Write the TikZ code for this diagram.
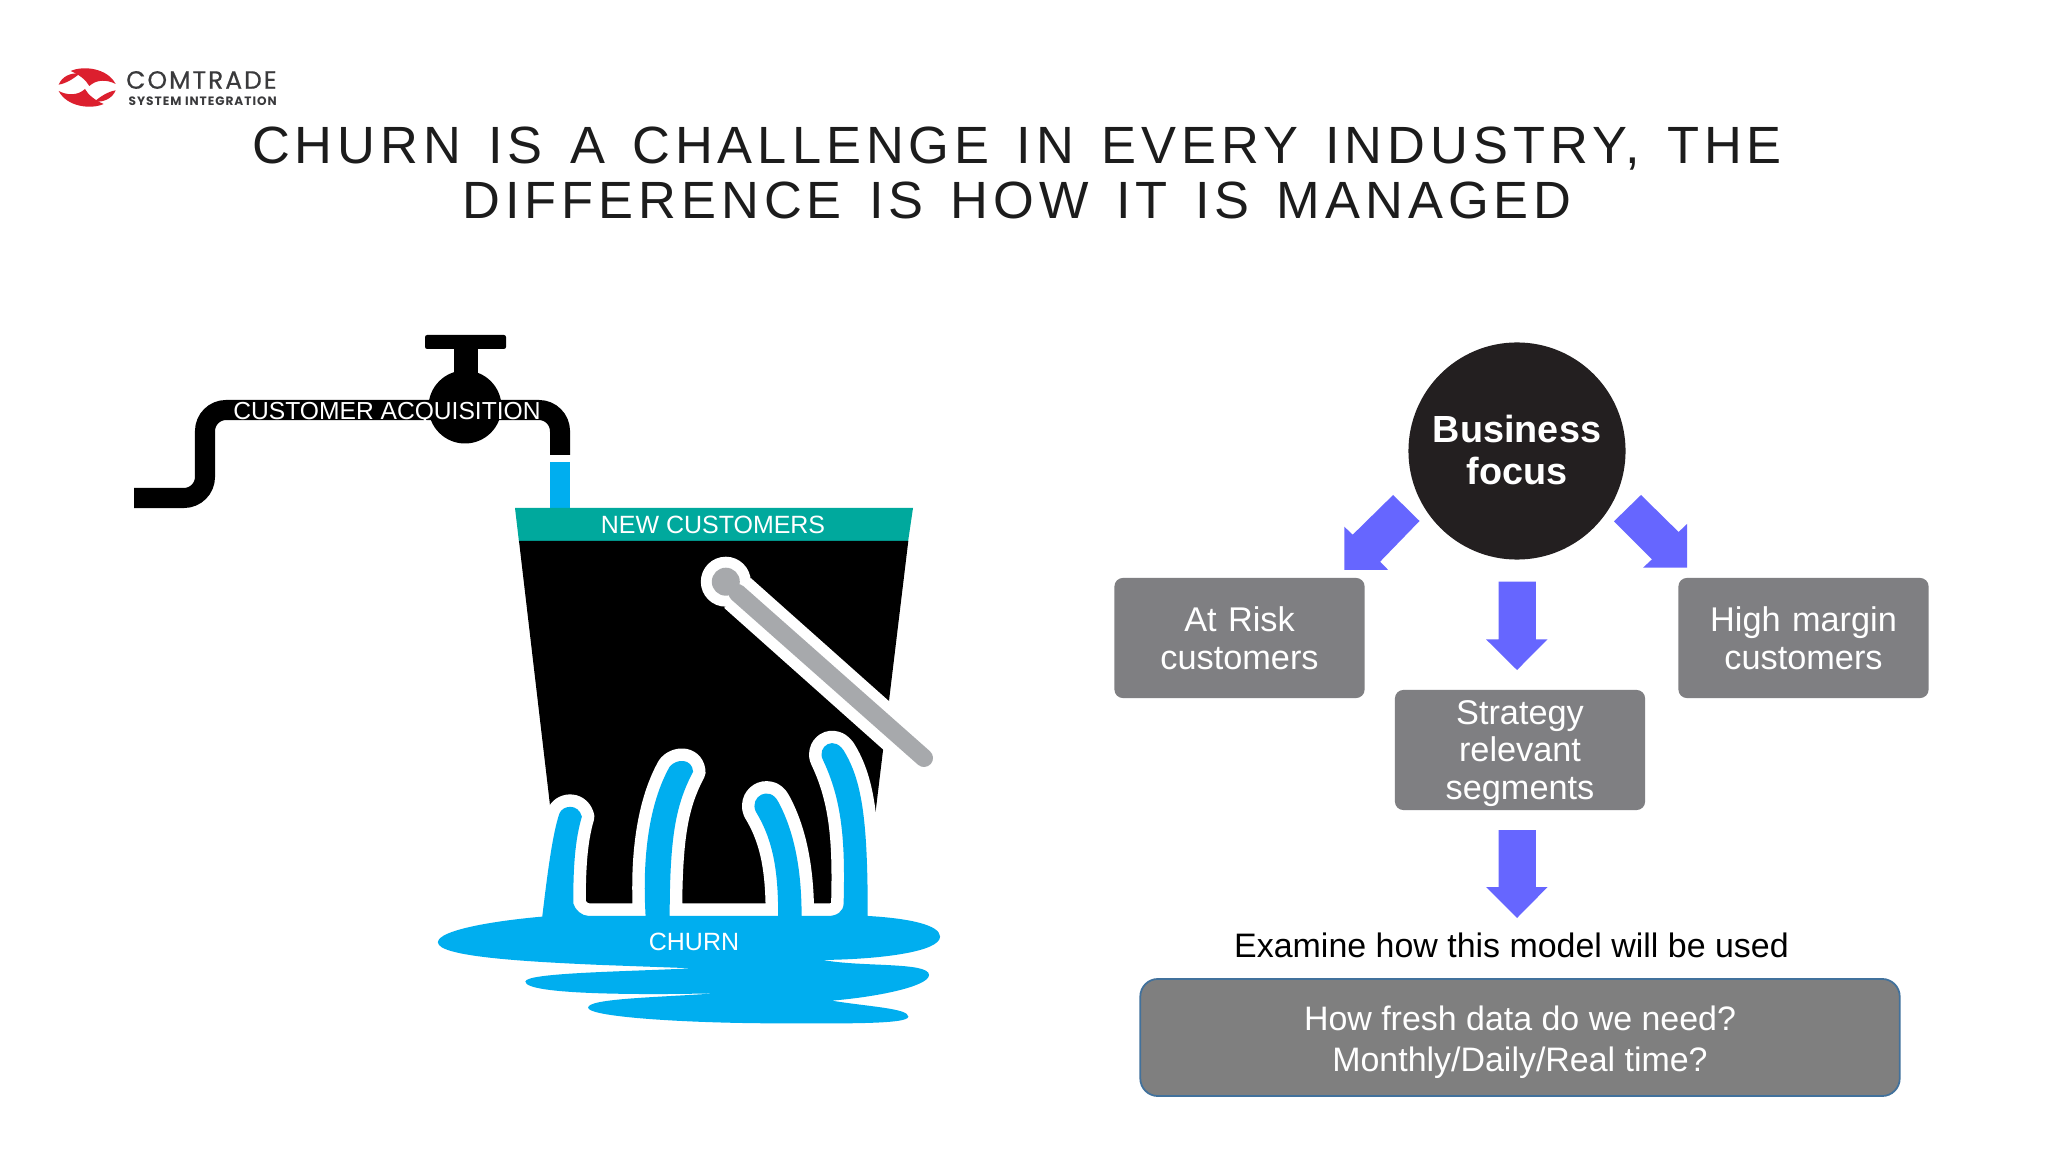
\documentclass[tikz,border=0pt]{standalone}
\usepackage{fontspec}
\setmainfont{Liberation Sans}
\newfontfamily\titlefont[LetterSpace=9.5,WordSpace=1.395]{Liberation Sans}
\newfontfamily\logofont[LetterSpace=8,FakeBold=0.5]{Poppins}
\newfontfamily\logosub[LetterSpace=8]{Poppins}
\definecolor{water}{HTML}{00AEEF}
\definecolor{rim}{HTML}{00A99D}
\definecolor{focusblk}{HTML}{231F20}
\definecolor{arrowblue}{HTML}{6666FF}
\definecolor{boxgray}{HTML}{7F7F82}
\definecolor{freshgray}{HTML}{7F7F7F}
\definecolor{freshedge}{HTML}{41719C}
\definecolor{handlegray}{HTML}{A7A9AC}
\definecolor{logored}{HTML}{DC1F2E}
\definecolor{logotxt}{HTML}{3A3A3C}
\definecolor{titleink}{HTML}{1C1C1C}
\newcommand{\fpx}[2]{\fontsize{#1}{#2}\selectfont}
\tikzset{
  x=0.01cm,y=-0.01cm,
  graybox/.style={fill=boxgray,rounded corners=2.4pt,inner sep=0pt,text=white,align=center,text width=2.4cm,font=\fpx{9.75}{10.7}},
  boxtext/.style={inner sep=0pt,align=center,text=white,font=\fpx{9.75}{10.7}},
  blockarrow/.style={fill=arrowblue,draw=none},
  lab/.style={inner sep=0pt,align=center},
}
\def\waterpath{
 (355,1130) .. controls (370,1000) and (385,880) .. (405,820)
 .. controls (415,795) and (460,790) .. (470,830)
 .. controls (450,900) and (445,980) .. (445,1090)
 .. controls (450,1110) and (470,1128) .. (490,1128)
 -- (655,1128) .. controls (645,950) and (665,790) .. (725,680)
 .. controls (745,655) and (790,655) .. (793,695)
 .. controls (745,790) and (725,880) .. (725,1128)
 -- (1040,1128) .. controls (1040,990) and (1025,900) .. (975,815)
 .. controls (955,770) and (1015,735) .. (1040,785)
 .. controls (1090,880) and (1108,1000) .. (1108,1128)
 -- (1185,1128) .. controls (1210,1128) and (1230,1115) .. (1230,1090)
 .. controls (1235,900) and (1225,780) .. (1170,660)
 .. controls (1150,620) and (1205,580) .. (1235,640)
 .. controls (1285,730) and (1300,850) .. (1300,1128)
 .. controls (1420,1135) and (1510,1155) .. (1510,1190)
 .. controls (1510,1235) and (1340,1258) .. (1170,1260)
 .. controls (1280,1282) and (1478,1265) .. (1478,1305)
 .. controls (1478,1340) and (1320,1372) .. (1195,1382)
 .. controls (1300,1400) and (1418,1405) .. (1418,1430)
 .. controls (1418,1455) and (1200,1450) .. (1000,1450)
 .. controls (750,1448) and (488,1430) .. (488,1403)
 .. controls (488,1375) and (700,1372) .. (860,1360)
 .. controls (650,1365) and (306,1365) .. (306,1325)
 .. controls (306,1298) and (600,1295) .. (790,1285)
 -- (526,1275)
 .. controls (300,1265) and (52,1250) .. (52,1207)
 .. controls (52,1170) and (220,1142) .. (355,1130) -- cycle}
\begin{document}
\begin{tikzpicture}
\useasboundingbox (0,0) rectangle (2048,1152);
\fill[white] (0,0) rectangle (2048,1152);
% logo
\begin{scope}[shift={(50,60)},xscale=0.3333,yscale=0.3333]
 \foreach \ang in {0,180}{
 \begin{scope}[rotate around={\ang:(111.5,82.5)}]
 \fill[logored] (26,74) .. controls (36,50) and (60,38) .. (90,40) .. controls (72,55) and (50,70) .. (26,74) -- cycle;
 \fill[logored] (62,33) .. controls (100,16) and (172,24) .. (197,72) .. controls (170,58) and (140,58) .. (118,78) .. controls (108,60) and (88,44) .. (62,33) -- cycle;
 \end{scope}}
\end{scope}
\node[lab,anchor=west,text=logotxt] (logoa) at (125.5,80) {\logofont\fpx{7.1}{8}COMTRADE};
\node[lab,anchor=west,text=logotxt] (logob) at (128,101) {\logosub\bfseries\fpx{3.45}{4}SYSTEM INTEGRATION};
% title
\node[lab,text=titleink,font=\titlefont\fpx{14.9}{15.65}] (title) at (1017,173) {CHURN IS A CHALLENGE IN EVERY INDUSTRY, THE\\DIFFERENCE IS HOW IT IS MANAGED};
% tap
\draw[line width=0.2cm,rounded corners=6pt] (134,498) -- (205,498) -- (205,410) -- (560,410) -- (560,455);
\fill (465,407) circle[radius=36.5];
\fill (454,345) rectangle (478,385);
\fill[rounded corners=0.6pt] (425,335) rectangle (506,349);
\node[lab,text=white,font=\fpx{7.0}{8}] (acq) at (387,413) {CUSTOMER ACQUISITION};
% water stream
\fill[water] (550,462) rectangle (570,510);
% bucket
\fill[rim] (515,508) -- (913,508) -- (908,542) -- (519,542) -- cycle;
\node[lab,text=white,font=\fpx{7.1}{8}] (newc) at (713,525) {NEW CUSTOMERS};
\fill[black] (519,541) -- (908.3,541) -- (863,916) -- (563,916) -- cycle;
% handle
\fill[white] (725.8,581.7) circle[radius=25];
\draw[white,line width=0.4cm] (737.5,593) -- (925,760);
\fill[handlegray] (725.8,581.7) circle[radius=14];
\draw[handlegray,line width=0.18cm,line cap=round] (737.5,593) -- (924,758);
% water
\begin{scope}[shift={(420,540)},xscale=0.3444,yscale=0.3333]
 \path[fill=water,preaction={draw=white,line width=0.25cm,line join=round}] \waterpath;
\end{scope}
\node[lab,text=white,font=\fpx{7.1}{8}] (churn) at (694,942) {CHURN};
% right side
\node[circle,fill=focusblk,minimum size=2.17cm,inner sep=0pt] (focus) at (1517,451) {};
\node[lab,text=white,font=\bfseries\fpx{10.75}{11.7}] (focustxt) at (1517,450) {Business\\focus};
\node[graybox,minimum width=2.5cm,minimum height=1.2cm] (risk) at (1239.5,638) {At Risk\\customers};
\node[graybox,minimum width=2.5cm,minimum height=1.2cm] (high) at (1803.5,638) {High margin\\customers};
\node[graybox,minimum width=2.5cm,minimum height=1.2cm] (strat) at (1520,750) {};
\node[boxtext] (strattext) at (1520,753.5) {Strategy\\relevant\\segments};
\node[lab,font=\fpx{9.65}{11}] (examine) at (1511.5,945) {Examine how this model will be used};
\node[graybox,fill=freshgray,draw=freshedge,line width=0.5pt,rounded corners=5pt,minimum width=7.59cm,minimum height=1.17cm,text width=7cm] (fresh) at (1520,1037.5) {};
\node[boxtext,font=\fpx{9.65}{11.6}] (freshtext) at (1520,1042.5) {How fresh data do we need?\\Monthly/Daily/Real time?};
\fill[blockarrow] (1393.1,495) -- (1419.5,521) -- (1380.1,561.7) -- (1388.2,570) -- (1344.3,570) -- (1344.3,526.7) -- (1352.7,534.7) -- cycle;
\fill[blockarrow] (1641,495) -- (1678.6,532) -- (1687,524) -- (1687,567.7) -- (1643,567.7) -- (1652,559.3) -- (1614,521.3) -- cycle;
\fill[blockarrow] (1498.6,581.7) -- (1535.8,581.7) -- (1535.8,639.3) -- (1547.6,639.3) -- (1517,670) -- (1486,639.3) -- (1498.6,639.3) -- cycle;
\fill[blockarrow] (1498.6,830) -- (1535.8,830) -- (1535.8,887) -- (1547.6,887) -- (1517,918) -- (1486,887) -- (1498.6,887) -- cycle;
\end{tikzpicture}
\end{document}
